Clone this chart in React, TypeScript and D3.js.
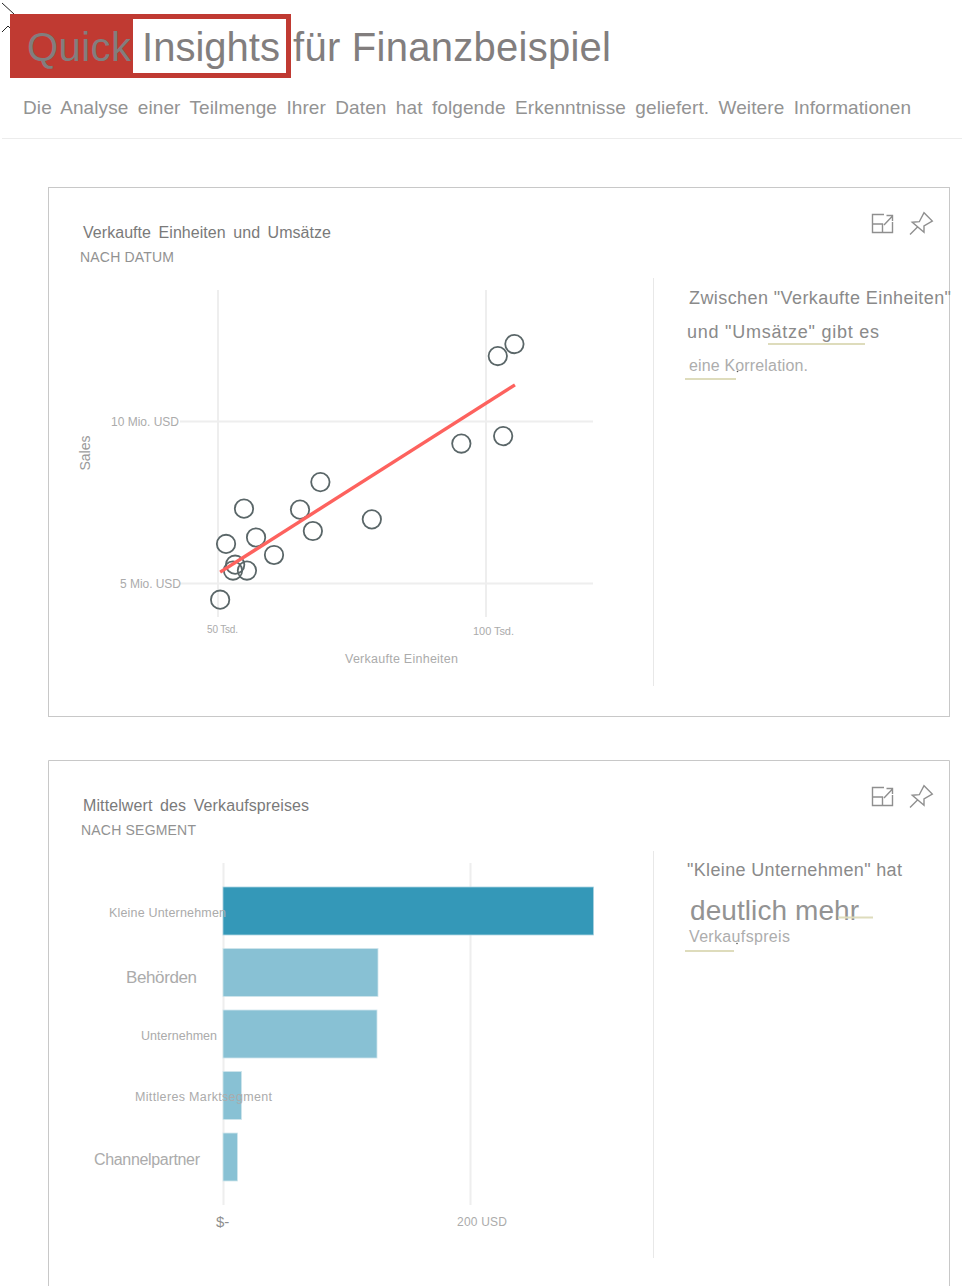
import * as d3 from "d3";

const FONT = "'Liberation Sans', Arial, sans-serif";

// scatter: Verkaufte Einheiten (Tsd.) / Sales (Mio. USD)
const units = [50.4, 51.5, 52.8, 53.2, 55.4, 54.85, 57.1, 60.45, 65.3, 67.7, 69.1, 78.7, 95.4, 103.2, 102.2, 105.3];
const sales = [4.5, 6.22, 5.4, 5.58, 5.4, 7.31, 6.42, 5.88, 7.28, 6.62, 8.13, 6.98, 9.32, 9.55, 12.02, 12.39];
const trendUnits = [50.4, 105.4];
const trendSales = [5.35, 11.13];
const unitTicks = [50, 100];
const salesTicks = [5, 10];

// bars: Mittelwert des Verkaufspreises
const segments = ["Kleine Unternehmen", "Behörden", "Unternehmen", "Mittleres Marktsegment", "Channelpartner"];
const avgPrice = [300, 125.5, 124.7, 15, 11.7];
const priceTicks = [0, 200];

const x1 = d3.scaleLinear().domain([50, 100]).range([218, 486]);
const y1 = d3.scaleLinear().domain([5, 10]).range([583.5, 421.5]);
const x2 = d3.scaleLinear().domain([0, 200]).range([223, 470]);
const y2 = d3.scaleBand<string>().domain(segments).range([887, 1181]).paddingInner(0.22).paddingOuter(0);

const trendLine = d3
  .line<number>()
  .x((d) => x1(d))
  .y((_, i) => y1(trendSales[i]));

const Label = ({ x, y, size, width, fill = "#ababab", anchor = "start", children, ...rest }: any) => (
  <text
    x={x}
    y={y}
    fontSize={size}
    fill={fill}
    textAnchor={anchor}
    textLength={width}
    lengthAdjust={width ? "spacing" : undefined}
    {...rest}
  >
    {children}
  </text>
);

// expand + pin icons, top right of each card
const CardIcons = ({ dy }: { dy: number }) => (
  <g transform={`translate(0,${dy})`} fill="none" stroke="#8f8f8f" strokeWidth={1.4}>
    <path d="M884 214.5H872.5V232.5H892.5V222M872.5 224H882.5V232.5M884 225L892.5 216M886.5 215.5H892.5V221" />
    <path d="M912.3 222.3L919.3 221.7L924 212.7L932.3 221L924 226L924 232.3ZM910 234.5L918 226.5" />
  </g>
);

const Underline = ({ x0, x1: xEnd, y }: { x0: number; x1: number; y: number }) => (
  <line x1={x0} x2={xEnd} y1={y} y2={y} stroke="#dedcbc" strokeWidth={2.2} />
);

export default function App() {
  return (
    <svg
      width={979}
      height={1286}
      style={{ position: "absolute", left: 0, top: 0, background: "#fff" }}
      fontFamily={FONT}
    >
      {/* cursor marks */}
      <path d="M2 3L14 14M2 32L8 26L10 28" stroke="#222" strokeWidth={1} fill="none" />

      {/* header */}
      <rect x={10} y={14} width={281} height={64} fill="#c03a32" />
      <rect x={133} y={19} width={153} height={54} fill="#fff" />
      <Label x={27} y={61} size={40} fill="#827e7e" width={104}>Quick</Label>
      <Label x={142} y={61} size={40} fill="#827e7e" width={138}>Insights</Label>
      <Label x={293} y={61} size={40} fill="#827e7e" width={318}>für Finanzbeispiel</Label>
      <Label x={23} y={114} size={19} fill="#939393" width={888} style={{ wordSpacing: 4 }}>
        Die Analyse einer Teilmenge Ihrer Daten hat folgende Erkenntnisse geliefert. Weitere Informationen
      </Label>
      <line x1={2} x2={962} y1={138.5} y2={138.5} stroke="#ececec" />

      {/* card 1: scatter */}
      <rect x={48.5} y={187.5} width={901} height={529} fill="none" stroke="#c8c8c8" />
      <CardIcons dy={0} />
      <Label x={83} y={238} size={16} fill="#7a7a7a" width={248} style={{ wordSpacing: 3 }}>Verkaufte Einheiten und Umsätze</Label>
      <Label x={80} y={262} size={14} fill="#929292" width={94}>NACH DATUM</Label>

      {unitTicks.map((t) => (
        <line key={t} x1={x1(t)} x2={x1(t)} y1={290} y2={617} stroke="#eeeeee" strokeWidth={2} />
      ))}
      {salesTicks.map((t) => (
        <line key={t} x1={180} x2={593} y1={y1(t)} y2={y1(t)} stroke="#eeeeee" strokeWidth={2} />
      ))}
      <Label x={179} y={y1(10) + 4.5} size={12} anchor="end" width={68}>10 Mio. USD</Label>
      <Label x={181} y={y1(5) + 4.5} size={12} anchor="end" width={61}>5 Mio. USD</Label>
      <Label x={x1(50) - 11} y={633} size={10} width={31}>50 Tsd.</Label>
      <Label x={x1(100) - 13} y={635} size={11} width={41}>100 Tsd.</Label>
      <Label x={345} y={663} size={12.5} width={113}>Verkaufte Einheiten</Label>
      <Label x={0} y={0} size={14} anchor="middle" fill="#9a9a9a" transform="translate(90,453) rotate(-90)">Sales</Label>

      {units.map((u, i) => (
        <circle key={i} cx={x1(u)} cy={y1(sales[i])} r={9.2} fill="none" stroke="#5a6668" strokeWidth={1.8} />
      ))}
      <path d={trendLine(trendUnits) ?? ""} fill="none" stroke="#fd625e" strokeWidth={3.4} />

      <line x1={653.5} x2={653.5} y1={278} y2={686} stroke="#e8e8e8" />
      <Label x={689} y={304} size={18} fill="#8a8a8a" width={262}>Zwischen "Verkaufte Einheiten"</Label>
      <Label x={687} y={338} size={18} fill="#8a8a8a" width={192}>und "Umsätze" gibt es</Label>
      <Label x={689} y={371} size={16} fill="#adadad" width={119}>eine Korrelation.</Label>
      <Underline x0={768} x1={865} y={344} />
      <Underline x0={685} x1={736} y={379} />
      <circle cx={737.5} cy={371.5} r={0.8} fill="#555" />

      {/* card 2: bars */}
      <path d="M48.5 1286V760.5H949.5V1286" fill="none" stroke="#c8c8c8" />
      <CardIcons dy={573} />
      <Label x={83} y={811} size={16} fill="#7a7a7a" width={226} style={{ wordSpacing: 3 }}>Mittelwert des Verkaufspreises</Label>
      <Label x={81} y={835} size={14} fill="#929292" width={115}>NACH SEGMENT</Label>

      {priceTicks.map((t) => (
        <line key={t} x1={x2(t) + 0.5} x2={x2(t) + 0.5} y1={863} y2={1205} stroke="#eeeeee" strokeWidth={2} />
      ))}
      {segments.map((s, i) => (
        <rect
          key={s}
          x={x2(0)}
          y={y2(s)}
          width={x2(avgPrice[i]) - x2(0)}
          height={y2.bandwidth()}
          fill={i === 0 ? "#3498b8" : "#88c1d4"}
          stroke={i === 0 ? "#a8d2e0" : "#cfe5ec"}
          strokeWidth={0.8}
        />
      ))}
      <Label x={109} y={917} size={12.5} width={117}>{segments[0]}</Label>
      <Label x={126} y={983} size={17} width={71}>{segments[1]}</Label>
      <Label x={141} y={1040} size={12.5} width={76}>{segments[2]}</Label>
      <Label x={135} y={1101} size={12.5} width={137}>{segments[3]}</Label>
      <Label x={94} y={1165} size={16} width={106}>{segments[4]}</Label>
      <Label x={x2(0) - 7} y={1227} size={15} fill="#8f8f8f">$-</Label>
      <Label x={x2(200) - 13} y={1226} size={12} width={50}>200 USD</Label>

      <line x1={653.5} x2={653.5} y1={851} y2={1258} stroke="#e8e8e8" />
      <Label x={687} y={876} size={18} fill="#8a8a8a" width={215}>"Kleine Unternehmen" hat</Label>
      <Label x={690} y={920} size={28} fill="#939393" width={169}>deutlich mehr</Label>
      <Label x={689} y={942} size={16} fill="#adadad" width={101}>Verkaufspreis</Label>
      <Underline x0={838} x1={873} y={917.5} />
      <Underline x0={685} x1={734} y={951} />
      <circle cx={737} cy={943.5} r={0.8} fill="#555" />
    </svg>
  );
}
